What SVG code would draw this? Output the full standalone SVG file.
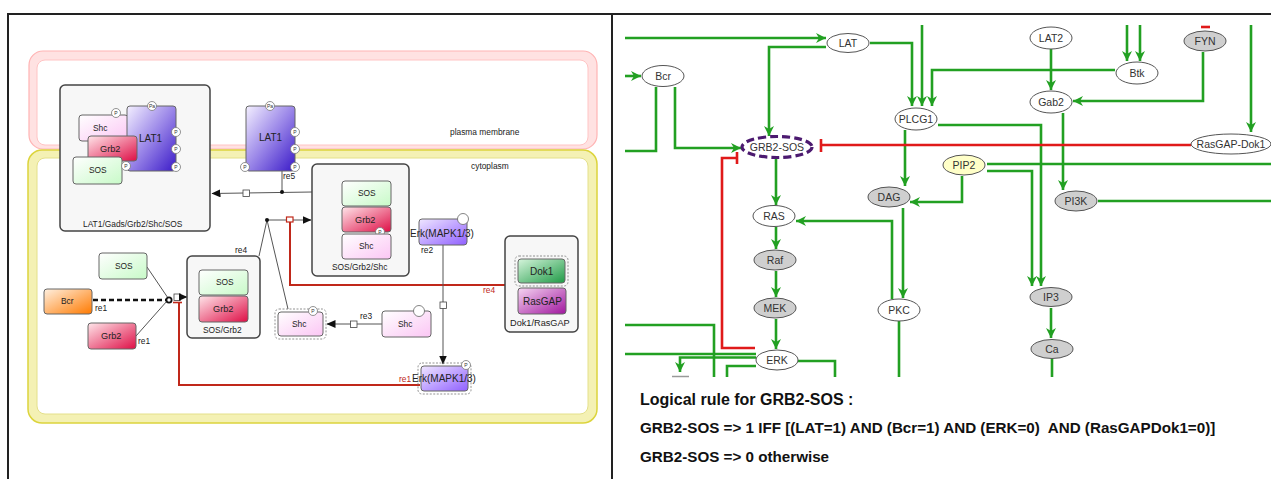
<svg xmlns="http://www.w3.org/2000/svg" width="1271" height="479" viewBox="0 0 1271 479">
<defs>
<style>
.t{font-family:"Liberation Sans",Arial,sans-serif;fill:#222;}
.s8{font-size:8.4px;}
.s9{font-size:9.2px;}
.s10{font-size:10px;}
.el{stroke:#666;stroke-width:1;}
.cx{fill:#f7f7f7;stroke:#444;stroke-width:1.5;}
.pc{fill:#fff;stroke:#777;stroke-width:0.8;}
.pt{font-family:"Liberation Sans",Arial,sans-serif;font-size:5px;fill:#333;text-anchor:middle;}
.ln{fill:none;stroke:#555;stroke-width:1;}
.g{fill:none;stroke:#22a022;stroke-width:2.6;}
.ga{fill:none;stroke:#22a022;stroke-width:2.6;marker-end:url(#ga);}
.r{fill:none;stroke:#e01a1a;stroke-width:2.6;}
.rb{fill:none;stroke:#c0281a;stroke-width:2;}
.nd{stroke:#555;stroke-width:1;}
.nt{font-family:"Liberation Sans",Arial,sans-serif;font-size:10.5px;fill:#333;text-anchor:middle;}
.big{font-family:"Liberation Sans",Arial,sans-serif;font-size:15.2px;font-weight:bold;fill:#111;white-space:pre;}
</style>
<marker id="ga" markerWidth="11" markerHeight="11" refX="10" refY="5.5" orient="auto" markerUnits="userSpaceOnUse">
<path d="M0,0.5 L10,5.5 L0,10.5 L3,5.5 z" fill="#22a022"/>
</marker>
<marker id="ka" markerWidth="9" markerHeight="8" refX="8.5" refY="4" orient="auto" markerUnits="userSpaceOnUse">
<path d="M0,0 L9,4 L0,8 z" fill="#111"/>
</marker>
<linearGradient id="gShc" x1="0" y1="0" x2="1" y2="1"><stop offset="0" stop-color="#ffffff"/><stop offset="1" stop-color="#fbc6f4"/></linearGradient>
<linearGradient id="gLat" x1="0" y1="0" x2="1" y2="1"><stop offset="0" stop-color="#f4f0ff"/><stop offset="0.5" stop-color="#9a86e8"/><stop offset="1" stop-color="#3a1ac8"/></linearGradient>
<linearGradient id="gGrb" x1="0" y1="0" x2="1" y2="1"><stop offset="0" stop-color="#ffe6ea"/><stop offset="1" stop-color="#de0e46"/></linearGradient>
<linearGradient id="gSos" x1="0" y1="0" x2="1" y2="1"><stop offset="0" stop-color="#ffffff"/><stop offset="1" stop-color="#c8fac8"/></linearGradient>
<linearGradient id="gBcr" x1="0" y1="0" x2="1" y2="1"><stop offset="0" stop-color="#fff0e0"/><stop offset="1" stop-color="#ff7a00"/></linearGradient>
<linearGradient id="gErk" x1="0" y1="0" x2="1" y2="1"><stop offset="0" stop-color="#efe6ff"/><stop offset="1" stop-color="#9060ff"/></linearGradient>
<linearGradient id="gDok" x1="0" y1="0" x2="1" y2="1"><stop offset="0" stop-color="#d6f5dc"/><stop offset="1" stop-color="#1f9a46"/></linearGradient>
<linearGradient id="gRas" x1="0" y1="0" x2="1" y2="1"><stop offset="0" stop-color="#f6d6f2"/><stop offset="1" stop-color="#a0169e"/></linearGradient>
</defs>
<rect x="0" y="0" width="1271" height="479" fill="#fff"/>
<!-- frame -->
<g id="frame" fill="none" stroke="#222" stroke-width="2">
<path d="M8,479 V14 H1271"/>
<path d="M612,14 V479"/>
</g>

<!-- LEFT PANEL -->
<g id="compartments">
<rect x="29" y="51" width="568" height="98" rx="14" fill="#ffe2e2" stroke="#ffb4b4" stroke-width="1.2"/>
<rect x="37" y="60" width="551" height="85" rx="8" fill="#fff" stroke="#ffc4c4" stroke-width="1"/>
<rect x="28" y="150" width="569" height="273" rx="14" fill="#f4f1b4" stroke="#dcd43c" stroke-width="1.5"/>
<rect x="37" y="158" width="551" height="256" rx="8" fill="#fff" stroke="#e4e08a" stroke-width="1"/>
<text class="t s8" x="450" y="135">plasma membrane</text>
<text class="t s8" x="471" y="169">cytoplasm</text>
</g>

<g id="left-connectors">
<!-- re5 -->
<path class="ln" d="M282,171 V192"/>
<path class="ln" d="M312,192 L212,193.5" marker-end="url(#ka)"/>
<circle cx="282" cy="192" r="2" fill="#111"/>
<rect x="243" y="190" width="6.5" height="6.5" fill="#fff" stroke="#444" stroke-width="0.8"/>
<text class="t s8" x="283" y="179">re5</text>
<!-- re4 -->
<path class="ln" d="M267,220 H311" marker-end="url(#ka)"/>
<path class="ln" d="M267,220 L259,256"/>
<path class="ln" d="M267,220 L288,309"/>
<circle cx="267" cy="220" r="2" fill="#111"/>
<path class="rb" d="M290,222 V285 H505"/>
<rect x="286.5" y="217" width="6.5" height="5" fill="#fff" stroke="#c0281a" stroke-width="1.2"/>
<text class="t s8" x="235" y="253">re4</text>
<text class="t s8" x="483" y="293" style="fill:#c0281a">re4</text>
<!-- re1 -->
<path class="ln" d="M147,267 L168,298"/>
<path class="ln" d="M136,336 L167,301"/>
<path d="M93,300 H166" fill="none" stroke="#111" stroke-width="2.4" stroke-dasharray="5 3"/>
<circle cx="169" cy="300" r="2.6" fill="#fff" stroke="#111" stroke-width="1.8"/>
<rect x="174" y="294" width="6.5" height="6.5" fill="#fff" stroke="#444" stroke-width="0.8"/>
<path class="ln" d="M180.5,297 H187" marker-end="url(#ka)"/>
<path class="rb" d="M179,303 V385 H420"/>
<path d="M173,302.5 H182" stroke="#c0281a" stroke-width="1.6"/>
<text class="t s8" x="95" y="311">re1</text>
<text class="t s8" x="138" y="344">re1</text>
<text class="t s8" x="399" y="382" style="fill:#c0281a">re1</text>
<!-- re3 -->
<path class="ln" d="M382,324 H327" marker-end="url(#ka)"/>
<rect x="350.5" y="321" width="6.5" height="6.5" fill="#fff" stroke="#444" stroke-width="0.8"/>
<text class="t s8" x="360" y="319">re3</text>
<!-- re2 -->
<path class="ln" d="M443,245 V364" marker-end="url(#ka)"/>
<rect x="440" y="302" width="6.5" height="6.5" fill="#fff" stroke="#444" stroke-width="0.8"/>
<text class="t s8" x="421" y="253">re2</text>
</g>

<g id="LAT1_Gads_Grb2_Shc_SOS">
<rect class="cx" x="60" y="85" width="150" height="146" rx="5"/>
<rect class="el" x="79" y="115" width="49" height="26" rx="3" fill="url(#gShc)"/>
<text class="t s8" x="93" y="131">Shc</text>
<circle class="pc" cx="116" cy="113" r="4.5"/><text class="pt" x="116" y="115">P</text>
<rect class="el" x="127" y="106" width="49" height="65" rx="3" fill="url(#gLat)"/>
<text class="t s10" x="139" y="142">LAT1</text>
<rect class="el" x="88" y="136" width="49" height="25" rx="3" fill="url(#gGrb)"/>
<text class="t s9" x="100" y="152">Grb2</text>
<rect class="el" x="73" y="157" width="49" height="27" rx="3" fill="url(#gSos)"/>
<text class="t s8" x="89" y="173">SOS</text>
<circle class="pc" cx="126" cy="166" r="4.5"/><text class="pt" x="126" y="168">P</text>
<circle class="pc" cx="152" cy="106" r="4.5"/><text class="pt" x="152" y="108">Pa</text>
<circle class="pc" cx="176" cy="132" r="4.5"/><text class="pt" x="176" y="134">P</text>
<circle class="pc" cx="176" cy="149" r="4.5"/><text class="pt" x="176" y="151">P</text>
<circle class="pc" cx="176" cy="167" r="4.5"/><text class="pt" x="176" y="169">P</text>
<text class="t s8" x="83" y="227">LAT1/Gads/Grb2/Shc/SOS</text>
</g>

<g id="LAT1">
<rect class="el" x="246" y="106" width="49" height="65" rx="3" fill="url(#gLat)"/>
<text class="t s10" x="259" y="141">LAT1</text>
<circle class="pc" cx="270" cy="106" r="4.5"/><text class="pt" x="270" y="108">Pa</text>
<circle class="pc" cx="295" cy="132" r="4.5"/><text class="pt" x="295" y="134">P</text>
<circle class="pc" cx="295" cy="149" r="4.5"/><text class="pt" x="295" y="151">P</text>
<circle class="pc" cx="295" cy="167" r="4.5"/><text class="pt" x="295" y="169">P</text>
<circle class="pc" cx="245" cy="167" r="4.5"/><text class="pt" x="245" y="169">P</text>
</g>

<g id="SOS_Grb2_Shc">
<rect class="cx" x="312" y="164" width="97" height="112" rx="5"/>
<rect class="el" x="342" y="181" width="49" height="25" rx="3" fill="url(#gSos)"/>
<text class="t s8" x="358" y="196">SOS</text>
<rect class="el" x="342" y="207" width="49" height="25" rx="3" fill="url(#gGrb)"/>
<text class="t s9" x="355" y="223">Grb2</text>
<circle class="pc" cx="380" cy="232" r="4.5"/><text class="pt" x="380" y="234">P</text>
<rect class="el" x="342" y="234" width="49" height="25" rx="3" fill="url(#gShc)"/>
<text class="t s8" x="359" y="249">Shc</text>
<text class="t s8" x="332" y="270">SOS/Grb2/Shc</text>
</g>

<g id="Erk_top">
<rect class="el" x="419" y="219" width="48" height="26" rx="3" fill="url(#gErk)"/>
<circle cx="463" cy="219" r="5.5" fill="#fff" stroke="#666" stroke-width="0.8"/>
<text class="t s10" x="410" y="237">Erk(MAPK1/3)</text>
</g>

<g id="Dok1_RasGAP">
<rect class="cx" x="505" y="236" width="73" height="96" rx="5"/>
<rect x="515" y="256" width="53" height="30" rx="4" fill="none" stroke="#777" stroke-width="0.8" stroke-dasharray="2 1.5"/>
<rect class="el" x="518" y="259" width="47" height="24" rx="3" fill="url(#gDok)"/>
<text class="t s10" x="530" y="275">Dok1</text>
<rect class="el" x="518" y="288" width="48" height="26" rx="3" fill="url(#gRas)"/>
<text class="t s10" x="523" y="305">RasGAP</text>
<text class="t s9" x="510" y="326">Dok1/RasGAP</text>
</g>

<g id="SOS_Grb2">
<rect class="cx" x="187" y="256" width="73" height="82" rx="5"/>
<rect class="el" x="199" y="270" width="49" height="25" rx="3" fill="url(#gSos)"/>
<text class="t s8" x="216" y="285">SOS</text>
<rect class="el" x="199" y="296" width="49" height="26" rx="3" fill="url(#gGrb)"/>
<text class="t s9" x="213" y="312">Grb2</text>
<text class="t s8" x="203" y="333">SOS/Grb2</text>
</g>

<g id="SOS_free">
<rect class="el" x="99" y="253" width="48" height="26" rx="3" fill="url(#gSos)"/>
<text class="t s8" x="115" y="269">SOS</text>
</g>
<g id="Bcr">
<rect class="el" x="44" y="289" width="48" height="25" rx="3" fill="url(#gBcr)"/>
<text class="t s8" x="61" y="304">Bcr</text>
</g>
<g id="Grb2_free">
<rect class="el" x="88" y="323" width="48" height="26" rx="3" fill="url(#gGrb)"/>
<text class="t s9" x="101" y="339">Grb2</text>
</g>

<g id="Shc_P">
<rect x="275" y="309" width="51" height="30" rx="4" fill="none" stroke="#777" stroke-width="0.8" stroke-dasharray="2 1.5"/>
<rect class="el" x="278" y="312" width="45" height="24" rx="3" fill="url(#gShc)"/>
<text class="t s8" x="292" y="327">Shc</text>
<circle class="pc" cx="313" cy="311" r="4.5"/><text class="pt" x="313" y="313">P</text>
</g>
<g id="Shc">
<rect class="el" x="382" y="311" width="49" height="26" rx="3" fill="url(#gShc)"/>
<text class="t s8" x="398" y="327">Shc</text>
<circle cx="419" cy="311" r="5.5" fill="#fff" stroke="#666" stroke-width="0.8"/>
</g>
<g id="Erk_P">
<rect x="418" y="363" width="53" height="31" rx="4" fill="none" stroke="#777" stroke-width="0.8" stroke-dasharray="2 1.5"/>
<rect class="el" x="421" y="366" width="47" height="25" rx="3" fill="url(#gErk)"/>
<circle class="pc" cx="466" cy="365" r="4.5"/><text class="pt" x="466" y="367">P</text>
<text class="t s10" x="412" y="382">Erk(MAPK1/3)</text>
</g>

<!-- RIGHT PANEL -->
<g id="right-connectors">
<path class="ga" d="M625,38 H826"/>
<path class="ga" d="M625,76 H641"/>
<path class="g" d="M656,87 V151 H625"/>
<path class="ga" d="M675,87 V148 H741"/>
<path class="ga" d="M826,47 H769 V136"/>
<path class="ga" d="M870,43 H912 V106"/>
<path class="ga" d="M922,25 V106"/>
<path class="ga" d="M1115,70 H932 V106"/>
<path class="ga" d="M938,125 H1041 V286"/>
<path class="ga" d="M987,171 H1032 V286"/>
<path class="g" d="M987,164 H1271"/>
<path class="ga" d="M962,176 V202 H910"/>
<path class="ga" d="M905,130 V186"/>
<path class="ga" d="M903,208 V298"/>
<path class="ga" d="M892,299 V221 H796"/>
<path class="ga" d="M776,157 V205"/>
<path class="ga" d="M776,227 V249"/>
<path class="ga" d="M776,271 V297"/>
<path class="ga" d="M776,319 V349"/>
<path class="g" d="M899,321 V377"/>
<path class="ga" d="M1063,113 V190"/>
<path class="ga" d="M1051,49 V90"/>
<path class="ga" d="M1127,25 V61"/>
<path class="ga" d="M1140,25 V61"/>
<path class="ga" d="M1203,52 V101 H1073"/>
<path class="ga" d="M1251,25 V132"/>
<path class="g" d="M1098,201 H1271"/>
<path class="ga" d="M1051,308 V338"/>
<path class="g" d="M1052,359 V377"/>
<path class="g" d="M625,325 H714 V377"/>
<path class="g" d="M625,354 H756"/>
<path class="ga" d="M756,357.5 H680 V372"/>
<path class="g" d="M756,366 H727 V377"/>
<path class="g" d="M798,361 H835 V377"/>
<path d="M672,376.5 H689" stroke="#999" stroke-width="1.5"/>
<path class="r" d="M1191,145 H821"/>
<path class="r" d="M821,139 V152"/>
<path class="r" d="M755,348 H722 V158 H737"/>
<path class="r" d="M737,152 V164"/>
<path class="r" d="M1201,27 H1210"/>
</g>

<g id="n_LAT"><ellipse class="nd" cx="848" cy="43" rx="21" ry="9.5" fill="#fff"/><text class="nt" x="848" y="47">LAT</text></g>
<g id="n_Bcr"><ellipse class="nd" cx="663" cy="76" rx="21" ry="10.5" fill="#fff"/><text class="nt" x="663" y="80">Bcr</text></g>
<g id="n_GRB2SOS"><ellipse cx="777" cy="147" rx="35" ry="10.5" fill="#fff" stroke="#4c1a70" stroke-width="3.2" stroke-dasharray="8 4"/><text class="nt" x="777" y="151">GRB2-SOS</text></g>
<g id="n_PLCG1"><ellipse class="nd" cx="916" cy="119" rx="21" ry="11" fill="#fff"/><text class="nt" x="916" y="123">PLCG1</text></g>
<g id="n_DAG"><ellipse class="nd" cx="889" cy="197" rx="21" ry="10" fill="#cfcfcf"/><text class="nt" x="889" y="201">DAG</text></g>
<g id="n_RAS"><ellipse class="nd" cx="774" cy="216" rx="21" ry="10.5" fill="#fff"/><text class="nt" x="774" y="220">RAS</text></g>
<g id="n_LAT2"><ellipse class="nd" cx="1051" cy="38" rx="21" ry="11" fill="#fff"/><text class="nt" x="1051" y="42">LAT2</text></g>
<g id="n_Btk"><ellipse class="nd" cx="1137" cy="73" rx="21" ry="11" fill="#fff"/><text class="nt" x="1137" y="77">Btk</text></g>
<g id="n_FYN"><ellipse class="nd" cx="1205" cy="41" rx="21" ry="10" fill="#cfcfcf"/><text class="nt" x="1205" y="45">FYN</text></g>
<g id="n_Gab2"><ellipse class="nd" cx="1051" cy="102" rx="21" ry="11" fill="#fff"/><text class="nt" x="1051" y="106">Gab2</text></g>
<g id="n_RasGAPDok1"><ellipse class="nd" cx="1231" cy="144" rx="40" ry="10" fill="#fff"/><text class="nt" x="1231" y="148">RasGAP-Dok1</text></g>
<g id="n_PIP2"><ellipse class="nd" cx="964" cy="165" rx="21" ry="10" fill="#ffffc8"/><text class="nt" x="964" y="169">PIP2</text></g>
<g id="n_PI3K"><ellipse class="nd" cx="1076" cy="201" rx="21" ry="10" fill="#cfcfcf"/><text class="nt" x="1076" y="205">PI3K</text></g>
<g id="n_Raf"><ellipse class="nd" cx="775" cy="260" rx="21" ry="10" fill="#cfcfcf"/><text class="nt" x="775" y="264">Raf</text></g>
<g id="n_MEK"><ellipse class="nd" cx="775" cy="308" rx="21" ry="10" fill="#cfcfcf"/><text class="nt" x="775" y="312">MEK</text></g>
<g id="n_ERK"><ellipse class="nd" cx="777" cy="360" rx="21" ry="10" fill="#fff"/><text class="nt" x="777" y="364">ERK</text></g>
<g id="n_PKC"><ellipse class="nd" cx="899" cy="310" rx="21" ry="11" fill="#fff"/><text class="nt" x="899" y="314">PKC</text></g>
<g id="n_IP3"><ellipse class="nd" cx="1051" cy="297" rx="21" ry="9.5" fill="#cfcfcf"/><text class="nt" x="1051" y="301">IP3</text></g>
<g id="n_Ca"><ellipse class="nd" cx="1052" cy="349" rx="21" ry="9.5" fill="#cfcfcf"/><text class="nt" x="1052" y="353">Ca</text></g>

<g id="rule-text">
<text class="big" x="640" y="405" style="font-size:16px">Logical rule for GRB2-SOS :</text>
<text class="big" x="640" y="433" xml:space="preserve">GRB2-SOS =&gt; 1 IFF [(LAT=1) AND (Bcr=1) AND (ERK=0)  AND (RasGAPDok1=0)]</text>
<text class="big" x="640" y="462">GRB2-SOS =&gt; 0 otherwise</text>
</g>
</svg>
